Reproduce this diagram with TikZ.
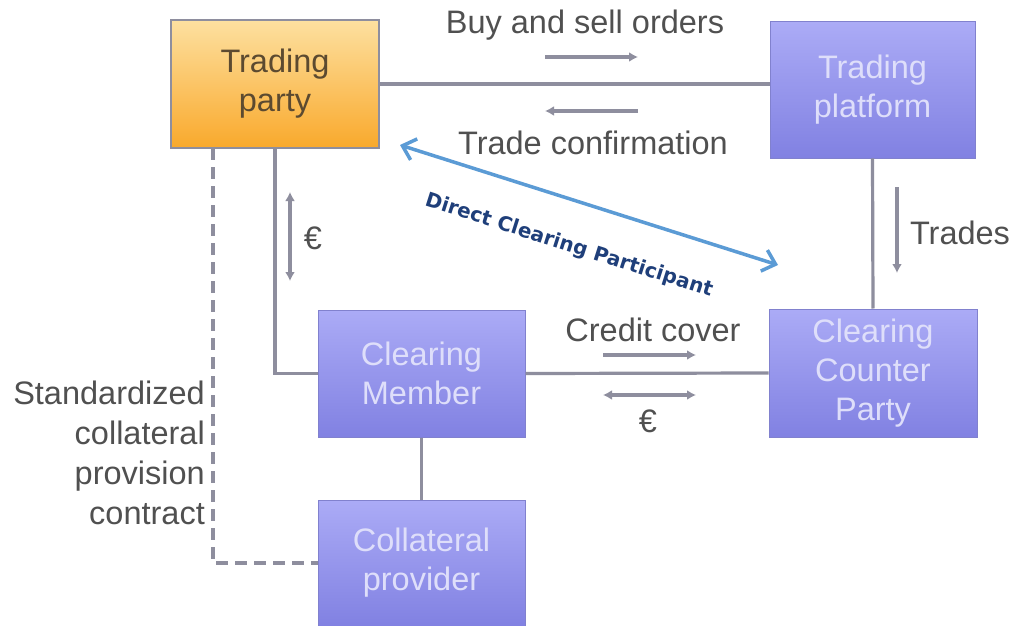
\documentclass[tikz,border=0pt]{standalone}
\usepackage{fontspec}
\setmainfont{Liberation Sans}
\newfontfamily\lblfont{DejaVu Sans}
\usetikzlibrary{arrows.meta}
\definecolor{linegray}{HTML}{8E8E9E}
\definecolor{txtgray}{HTML}{505050}
\definecolor{orangetop}{HTML}{FDE0A0}
\definecolor{orangebot}{HTML}{F9A92C}
\definecolor{purptop}{HTML}{ABABF6}
\definecolor{purpbot}{HTML}{8181E2}
\definecolor{purptext}{HTML}{DEDEFA}
\definecolor{orangetext}{HTML}{5C4A30}
\definecolor{blueline}{HTML}{5B9BD5}
\definecolor{bluetext}{HTML}{1F3F7A}
\tikzset{
  orangebox/.style={draw=linegray, line width=1.5pt, top color=orangetop, bottom color=orangebot, text=orangetext, align=center, inner sep=0pt},
  purplebox/.style={draw=purpbot!80!gray, line width=1pt, top color=purptop, bottom color=purpbot, text=purptext, align=center, inner sep=0pt},
  conn/.style={draw=linegray, line width=3.2pt},
  dashconn/.style={draw=linegray, line width=3.2pt, dash pattern=on 12pt off 7pt},
  smallarrow/.style={draw=linegray, line width=3.8pt, -{Latex[length=9pt,width=10pt]}},
  smalldouble/.style={draw=linegray, line width=3.8pt, {Latex[length=9pt,width=10pt]}-{Latex[length=9pt,width=10pt]}},
  lbl/.style={text=txtgray, align=center, inner sep=0pt},
  bluearrow/.style={draw=blueline, line width=3.5pt, {Straight Barb[length=12pt,width=22pt]}-{Straight Barb[length=12pt,width=22pt]}},
}
\begin{document}
\begin{tikzpicture}[x=1pt,y=-1pt, font=\fontsize{32.5}{39}\selectfont]
\useasboundingbox[fill=white] (0,0) rectangle (1013,626);

% boxes
\node[orangebox, minimum width=208pt, minimum height=128pt] (tp) at (275,84) {Trading\\party};
\node[purplebox, minimum width=205pt, minimum height=136pt] (tpl) at (872.5,90) {Trading\\platform};
\node[purplebox, minimum width=207pt, minimum height=127pt] (cm) at (421.5,373.5) {Clearing\\Member};
\node[purplebox, minimum width=208pt, minimum height=128pt] (ccp) at (873,373) {Clearing\\Counter\\Party};
\node[purplebox, minimum width=207pt, minimum height=126pt] (cp) at (421.5,563) {Collateral\\provider};

% connectors
\draw[conn] (tp.east) -- (tp.east -| tpl.west);
\draw[conn] (tpl.south) -- (ccp.north);
\draw[conn] (tp.south) |- (cm.west);
\draw[conn] (cm.east) -- (ccp.west);
\draw[conn] (cm.south) -- (cp.north);
\coordinate (ds) at (213,148);
\draw[dashconn] (ds) |- (cp.west);

% small arrows
\coordinate (b1) at (545,57); \coordinate (b2) at (638,57);
\draw[smallarrow] (b1) -- (b2);
\coordinate (c1) at (638,111); \coordinate (c2) at (545,111);
\draw[smallarrow] (c1) -- (c2);
\coordinate (e1) at (290,192); \coordinate (e2) at (290,281);
\draw[smalldouble] (e1) -- (e2);
\coordinate (t1) at (897,187); \coordinate (t2) at (897,273);
\draw[smallarrow] (t1) -- (t2);
\coordinate (cc1) at (603,355); \coordinate (cc2) at (696,355);
\draw[smallarrow] (cc1) -- (cc2);
\coordinate (f1) at (603,395); \coordinate (f2) at (696,395);
\draw[smalldouble] (f1) -- (f2);

% labels
\node[lbl] (buy) at (585,25) {Buy and sell orders};
\node[lbl] (conf) at (593,143) {Trade confirmation};
\node[lbl] (trades) at (960,233) {Trades};
\node[lbl] (eur1) at (313,238) {€};
\node[lbl] (credit) at (653,330) {Credit cover};
\node[lbl] (eur2) at (648,421) {€};
\node[lbl, align=right, anchor=east, font=\fontsize{32.5}{40}\selectfont] (std) at (205,453) {Standardized\\collateral\\provision\\contract};

% direct clearing participant
\coordinate (d1) at (400,145); \coordinate (d2) at (778,265);
\draw[bluearrow] (d1) -- (d2);
\node[text=bluetext, rotate=-17.6, inner sep=0pt, font=\lblfont\bfseries\fontsize{20}{22}\selectfont] (dcp) at (569,246) {Direct Clearing Participant};
\end{tikzpicture}
\end{document}
